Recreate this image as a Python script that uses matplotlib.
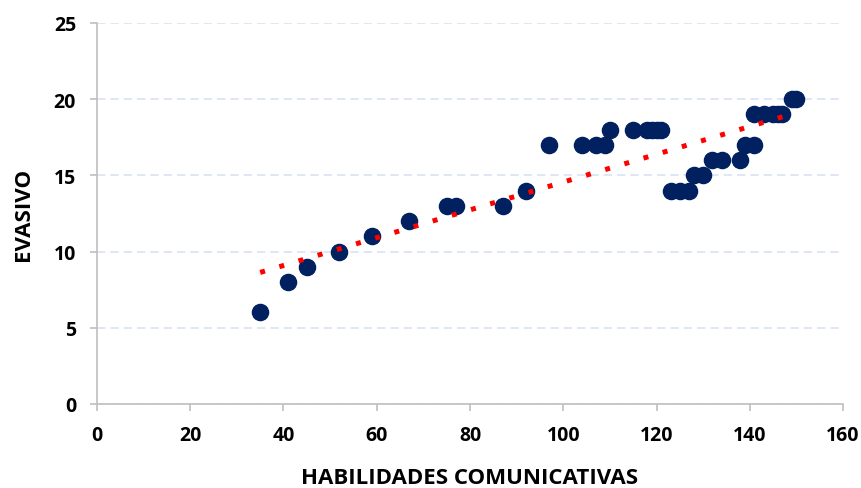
import matplotlib
matplotlib.use("Agg")
import matplotlib.pyplot as plt
import numpy as np

plt.rcParams['font.family'] = ['Open Sans', 'DejaVu Sans']

habilidades = [35, 41, 45, 52, 59, 67, 75, 77, 87, 92, 97, 104, 107, 109, 110,
               115, 118, 119, 120, 121, 123, 125, 127, 128, 130, 132, 134, 138,
               139, 141, 141, 143, 145, 146, 147, 149, 150]
evasivo = [6, 8, 9, 10, 11, 12, 13, 13, 13, 14, 17, 17, 17, 17, 18,
           18, 18, 18, 18, 18, 14, 14, 14, 15, 15, 16, 16, 16,
           17, 17, 19, 19, 19, 19, 19, 20, 20]

x = np.array(habilidades)
y = np.array(evasivo)

fig = plt.figure(figsize=(8.62, 4.89), dpi=100)
ax = fig.add_axes([0.1125, 0.172, 0.8655, 0.779])

ax.scatter(x, y, s=135, color='#002060', zorder=3)

# Linea de tendencia lineal
m, b = np.polyfit(x, y, 1)
xt = np.linspace(x.min(), x.max(), 100)
ax.plot(xt, m * xt + b, linestyle=(0, (1, 3)), color='#ff0000', linewidth=3.6, zorder=4)

ax.set_xlim(0, 160)
ax.set_ylim(0, 25)
ax.set_xticks(range(0, 161, 20))
ax.set_yticks(range(0, 26, 5))

ax.grid(axis='y', color='#d9e1f2', linestyle=(0, (5, 3)), linewidth=1.2)
ax.set_axisbelow(True)
for side in ['top', 'right']:
    ax.spines[side].set_visible(False)
for side in ['left', 'bottom']:
    ax.spines[side].set_color('#bfbfbf')
    ax.spines[side].set_linewidth(1.2)

ax.tick_params(axis='both', colors='#bfbfbf', length=5, width=1.2, labelcolor='black', pad=10)
for lbl in ax.get_xticklabels() + ax.get_yticklabels():
    lbl.set_fontweight('bold')
    lbl.set_fontsize(14)

ax.set_xlabel("HABILIDADES COMUNICATIVAS", fontsize=16, fontweight='bold', labelpad=16)
ax.set_ylabel("EVASIVO", fontsize=16, fontweight='bold', labelpad=14)

fig.savefig("out.png", dpi=100)
